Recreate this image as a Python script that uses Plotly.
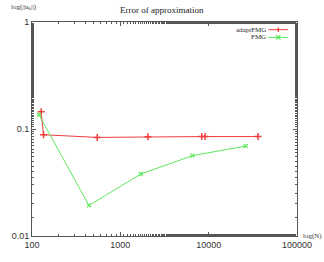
import plotly.graph_objects as go

# data (log-log)
adapt_N = [127, 135, 548, 2050, 8340, 9120, 36200]
adapt_err = [0.145, 0.0883, 0.0835, 0.0845, 0.085, 0.085, 0.085]
fmg_N = [120, 441, 1710, 6560, 26250]
fmg_err = [0.136, 0.0193, 0.038, 0.0563, 0.0693]

red = "#f03c3c"
green = "#5ee85e"

fig = go.Figure()
fig.add_trace(go.Scatter(x=adapt_N, y=adapt_err, mode="lines+markers", name="adaptFMG",
                         line=dict(color=red, width=1),
                         marker=dict(symbol="cross-thin", size=5, line=dict(color=red, width=1.5))))
fig.add_trace(go.Scatter(x=fmg_N, y=fmg_err, mode="lines+markers", name="FMG",
                         line=dict(color=green, width=1),
                         marker=dict(symbol="x-thin", size=4, line=dict(color=green, width=1.2))))

axis_common = dict(type="log", showgrid=False, zeroline=False, showline=True, linecolor="#555",
                   linewidth=1, mirror="ticks", ticks="inside", ticklen=4, tickcolor="#555",
                   tickfont=dict(family="Liberation Sans", size=9, color="#333"),
                   minor=dict(ticks="inside", ticklen=2, tickcolor="#555", showgrid=False))
fig.update_xaxes(range=[2, 5], tickvals=[100, 1000, 10000, 100000],
                 ticktext=["100", "1000", "10000", "100000"], **axis_common)
fig.update_yaxes(range=[-2, 0], tickvals=[0.01, 0.1, 1], ticktext=["0.01", "0.1", "1"], **axis_common)

ly_red, ly_green = 0.964, 0.928
lx0, lx1 = 0.892, 0.967
mx = (lx0 + lx1) / 2
dx, dy = 0.008, 0.01

fig.update_layout(
    width=324, height=262, margin=dict(l=27, r=18, t=22, b=18),
    paper_bgcolor="white", plot_bgcolor="white", showlegend=False,
    annotations=[
        dict(text="Error of approximation", x=0.49, y=1, xref="paper", yref="paper",
             xanchor="center", yanchor="bottom", yshift=5, showarrow=False,
             font=dict(family="Liberation Serif", size=9, color="#222")),
        dict(text="log(||u<sub>h</sub>||)", x=-0.085, y=1, xref="paper", yref="paper",
             xanchor="left", yanchor="bottom", yshift=9, showarrow=False,
             font=dict(family="Liberation Serif", size=7, color="#333")),
        dict(text="log(N)", x=1.015, y=0, xref="paper", yref="paper",
             xanchor="left", yanchor="middle", showarrow=False,
             font=dict(family="Liberation Serif", size=7, color="#333")),
        dict(text="adaptFMG", x=0.885, y=ly_red, xref="paper", yref="paper",
             xanchor="right", yanchor="middle", showarrow=False, borderpad=0,
             font=dict(family="Liberation Serif", size=7, color="#222")),
        dict(text="FMG", x=0.885, y=ly_green, xref="paper", yref="paper",
             xanchor="right", yanchor="middle", showarrow=False, borderpad=0,
             font=dict(family="Liberation Serif", size=7, color="#222")),
    ],
    shapes=[
        dict(type="line", xref="paper", yref="paper", x0=lx0, x1=lx1, y0=ly_red, y1=ly_red,
             line=dict(color=red, width=1)),
        dict(type="line", xref="paper", yref="paper", x0=mx, x1=mx, y0=ly_red - dy, y1=ly_red + dy,
             line=dict(color=red, width=1.5)),
        dict(type="line", xref="paper", yref="paper", x0=lx0, x1=lx1, y0=ly_green, y1=ly_green,
             line=dict(color=green, width=1)),
        dict(type="line", xref="paper", yref="paper", x0=mx - dx, x1=mx + dx,
             y0=ly_green - dy, y1=ly_green + dy, line=dict(color=green, width=1.2)),
        dict(type="line", xref="paper", yref="paper", x0=mx - dx, x1=mx + dx,
             y0=ly_green + dy, y1=ly_green - dy, line=dict(color=green, width=1.2)),
    ],
)

fig.write_html("out.html")
